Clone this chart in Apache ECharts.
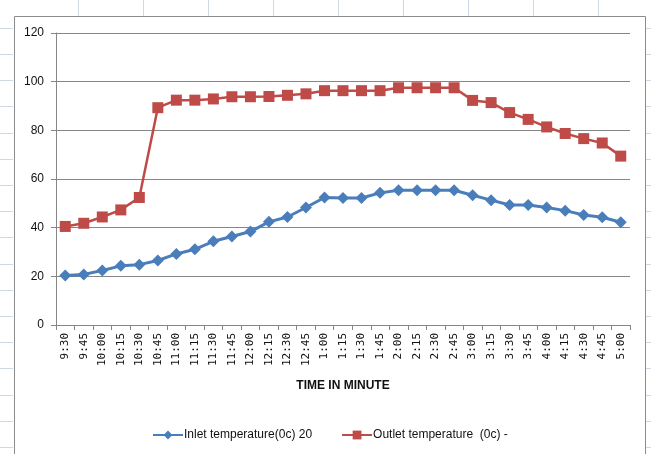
<!DOCTYPE html>
<html>
<head>
<meta charset="utf-8">
<script src="https://cdn.jsdelivr.net/npm/echarts@6/dist/echarts.min.js"></script>
<style>html,body{margin:0;padding:0;background:#fff}#c{width:651px;height:454px}</style>
</head>
<body>
<div id="c"></div>
<script>
var categories = ['9:30','9:45','10:00','10:15','10:30','10:45','11:00','11:15','11:30','11:45','12:00','12:15','12:30','12:45','1:00','1:15','1:30','1:45','2:00','2:15','2:30','2:45','3:00','3:15','3:30','3:45','4:00','4:15','4:30','4:45','5:00'];
var inletTemp = [20.3,20.8,22.4,24.3,24.8,26.5,29.2,31.1,34.4,36.4,38.4,42.4,44.4,48.3,52.4,52.2,52.2,54.3,55.4,55.4,55.4,55.4,53.3,51.3,49.3,49.3,48.3,47.0,45.2,44.3,42.2];
var outletTemp = [40.5,41.8,44.4,47.3,52.4,89.3,92.4,92.4,92.9,93.8,93.8,93.9,94.4,95.0,96.3,96.3,96.3,96.3,97.5,97.5,97.5,97.5,92.3,91.4,87.3,84.5,81.4,78.7,76.6,74.8,69.4];
var yTicks = [0,20,40,60,80,100,120];
var inletName = 'Inlet temperature(0c) 20';
var outletName = 'Outlet temperature  (0c) -';
var xTitle = 'TIME IN MINUTE';

var chart = echarts.init(document.getElementById('c'));

// spreadsheet cell lines behind the chart (decoration)
var deco = [];
var cellCol = '#d0d7e5';
for (var x = 78; x < 651; x += 65) {
  deco.push({type:'line', shape:{x1:x+0.5,y1:0,x2:x+0.5,y2:16}, style:{stroke:cellCol,lineWidth:1}, silent:true, z:0});
}
for (var y = 447; y > 16; y -= 26.2) {
  var yy = Math.round(y)+0.5;
  deco.push({type:'line', shape:{x1:0,y1:yy,x2:13,y2:yy}, style:{stroke:cellCol,lineWidth:1}, silent:true, z:0});
  deco.push({type:'line', shape:{x1:646,y1:yy,x2:651,y2:yy}, style:{stroke:cellCol,lineWidth:1}, silent:true, z:0});
}
deco.push({type:'polyline', shape:{points:[[14.5,454],[14.5,16.5],[645.5,16.5],[645.5,454]]}, style:{stroke:'#8c8c8c',lineWidth:1,fill:null}, silent:true, z:1});

chart.setOption({
  backgroundColor:'#fff',
  animation:false,
  graphic: deco,
  grid:{left:56,right:21,top:33,bottom:129},
  legend:{
    left:147, top:424, itemGap:29, itemWidth:30, itemHeight:11,
    textStyle:{fontFamily:'Liberation Sans, sans-serif', fontSize:12, color:'#111', padding:[0,0,0,-4]},
    data:[inletName, outletName]
  },
  xAxis:{
    type:'category', data:categories, boundaryGap:true,
    name:xTitle, nameLocation:'middle', nameGap:55,
    nameTextStyle:{fontFamily:'Liberation Sans, sans-serif', fontWeight:'bold', fontSize:12, color:'#111'},
    axisLine:{lineStyle:{color:'#868686',width:1}},
    axisTick:{show:true, alignWithLabel:false, length:5, lineStyle:{color:'#868686'}},
    axisLabel:{rotate:90, interval:0, margin:8, fontFamily:'DejaVu Sans Mono, monospace', fontSize:11, color:'#111'},
    splitLine:{show:false}
  },
  yAxis:{
    type:'value', min:0, max:120, interval:20,
    axisLine:{show:true, lineStyle:{color:'#868686',width:1}},
    axisTick:{show:true, length:5, lineStyle:{color:'#868686'}},
    axisLabel:{margin:12, fontFamily:'Liberation Sans, sans-serif', fontSize:12, color:'#111',
      formatter:function(v){return yTicks.indexOf(v)>=0 ? String(v) : '';}},
    splitLine:{show:true, lineStyle:{color:'#868686',width:1}}
  },
  series:[
    {name:inletName, type:'line', data:inletTemp, symbol:'diamond', symbolSize:12,
     itemStyle:{color:'#4a7ebb'}, lineStyle:{color:'#4a7ebb',width:3}},
    {name:outletName, type:'line', data:outletTemp, symbol:'rect', symbolSize:11,
     itemStyle:{color:'#be4b48'}, lineStyle:{color:'#be4b48',width:2.5}}
  ]
});
</script>
</body>
</html>
